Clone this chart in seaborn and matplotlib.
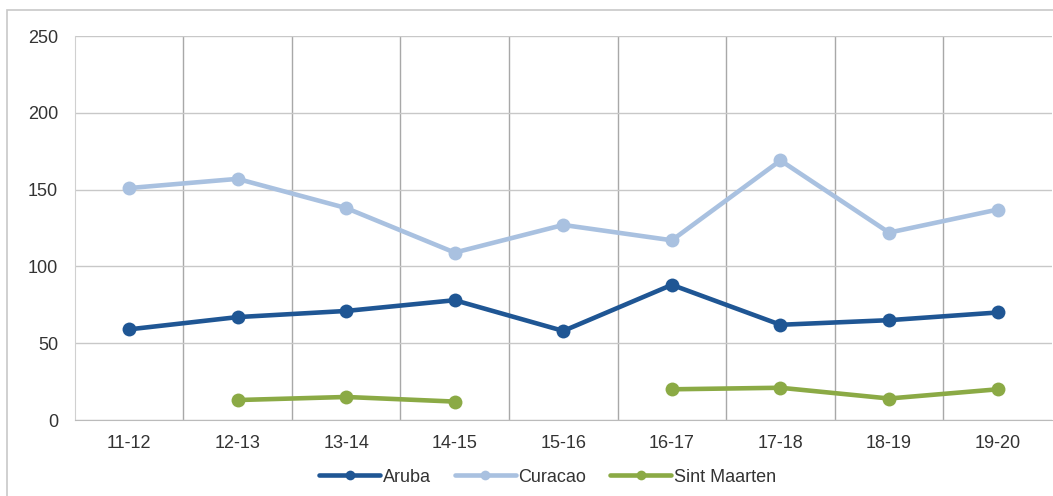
import pandas as pd
import numpy as np
import matplotlib.pyplot as plt
import seaborn as sns
from matplotlib.lines import Line2D
from matplotlib.patches import Rectangle

# Datos
periodos = ['11-12', '12-13', '13-14', '14-15', '15-16', '16-17', '17-18', '18-19', '19-20']
aruba = [59, 67, 71, 78, 58, 88, 62, 65, 70]
curacao = [151, 157, 138, 109, 127, 117, 169, 122, 137]
sint_maarten = [np.nan, 13, 15, 12, np.nan, 20, 21, 14, 20]

series = ['Aruba', 'Curacao', 'Sint Maarten']
colores = ['#1F5694', '#A9C1E0', '#8BAA45']

# Formato largo; los huecos separan segmentos (units) para no unir la linea
filas = []
for nombre, valores in zip(series, [aruba, curacao, sint_maarten]):
    seg = 0
    for i, v in enumerate(valores):
        if pd.isna(v):
            seg += 1
            continue
        filas.append({'pos': i, 'valor': v, 'serie': nombre, 'seg': f'{nombre}-{seg}'})
data = pd.DataFrame(filas)

sns.set_style('white')
plt.rcParams['font.family'] = ['Liberation Sans Narrow', 'Liberation Sans', 'DejaVu Sans']

fig = plt.figure(figsize=(10.53, 4.96), dpi=100)
ax = fig.add_axes([0.0709, 0.1532, 0.9281, 0.7742])

# marco exterior del grafico
fig.patches.append(Rectangle((0.0066, -0.05), 1.05, 1.03, transform=fig.transFigure,
                             fill=False, edgecolor='#C8C8C8', linewidth=1.2))

sns.lineplot(data=data, x='pos', y='valor', hue='serie', units='seg', estimator=None,
             palette=dict(zip(series, colores)), marker='o', markersize=10,
             markeredgewidth=0, linewidth=3.3, legend=False, ax=ax, sort=True)

ax.set_xlim(-0.5, len(periodos) - 0.5)
ax.set_ylim(0, 250)
ax.set_yticks(range(0, 251, 50))
ax.set_xticks(range(len(periodos)))
ax.set_xticklabels(periodos)
ax.set_xticks(np.arange(0.5, len(periodos) - 1, 1), minor=True)
ax.grid(axis='y', color='#C8C8C8', linewidth=1)
ax.grid(axis='x', which='minor', color='#A8A8A8', linewidth=1)
ax.set_axisbelow(True)
ax.tick_params(axis='both', which='both', length=0, labelsize=13, colors='#333333')
ax.tick_params(axis='x', pad=11)
ax.tick_params(axis='y', pad=12)
ax.set_xlabel('')
ax.set_ylabel('')
for lado in ['top', 'right']:
    ax.spines[lado].set_visible(False)
ax.spines['left'].set_color('#D0D0D0')
ax.spines['bottom'].set_color('#BBBBBB')

handles = [Line2D([0], [0], color=c, linewidth=3.3, marker='o', markersize=7, markeredgewidth=0)
           for c in colores]
fig.legend(handles, series, loc='center', bbox_to_anchor=(0.52, 0.038), ncol=3, frameon=False,
           fontsize=13, handlelength=3.4, handletextpad=0.15, columnspacing=1.3,
           labelcolor='#333333')

plt.savefig('out.png', dpi=100)
